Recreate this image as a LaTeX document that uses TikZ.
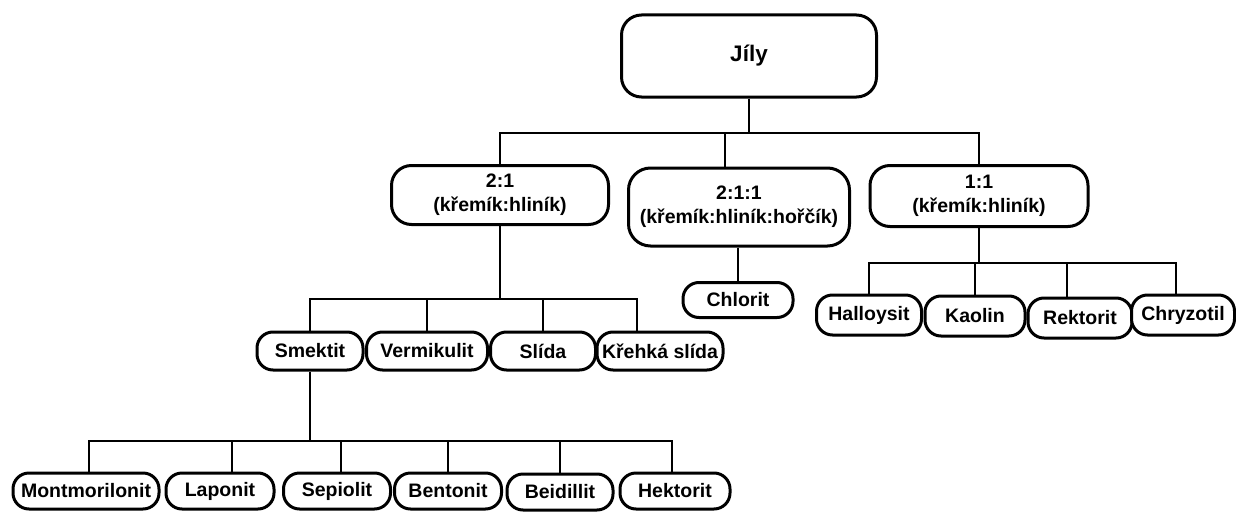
\documentclass[tikz,border=0pt]{standalone}
\usepackage{fontspec}
\setmainfont{Liberation Sans}
\begin{document}
\begin{tikzpicture}[x=1pt,y=-1pt,
  box/.style={draw=black, line width=3pt, rounded corners=16pt, fill=white, inner sep=0pt,
    font=\fontsize{19.5}{24}\selectfont\bfseries, align=center, minimum height=38pt},
  big/.style={box, rounded corners=20pt},
  conn/.style={draw=black, line width=2.2pt}]
\useasboundingbox[fill=white] (0,0) rectangle (1236,511);
% nodes
\node[big, minimum width=255pt, minimum height=82pt, font=\fontsize{22.5}{26}\selectfont\bfseries] (jily) at (749,56) {Jíly};
\node[big, minimum width=217pt, minimum height=59pt] (n21) at (500,195) {2:1\\(křemík:hliník)};
\node[big, minimum width=221pt, minimum height=78pt, rounded corners=22pt] (n211) at (739,207) {2:1:1\\(křemík:hliník:hořčík)};
\node[big, minimum width=218pt, minimum height=61pt] (n11) at (979,196) {1:1\\(křemík:hliník)};
\node[box, minimum width=110pt, minimum height=35pt] (chlorit) at (738,300) {Chlorit};
\node[box, minimum width=105pt, minimum height=40pt] (halloysit) at (869,315) {Halloysit};
\node[box, minimum width=100pt, minimum height=40pt] (kaolin) at (975,316) {Kaolin};
\node[box, minimum width=104pt, minimum height=40pt] (rektorit) at (1080,318) {Rektorit};
\node[box, minimum width=103pt, minimum height=40pt] (chryzotil) at (1183,315) {Chryzotil};
\node[box, minimum width=106pt] (smektit) at (310,351) {Smektit};
\node[box, minimum width=121pt] (vermikulit) at (427,351) {Vermikulit};
\node[box, minimum width=105pt] (slida) at (543,351) {Slída};
\node[box, minimum width=126pt] (krehka) at (660,351) {Křehká slída};
\node[box, minimum width=146pt, minimum height=36pt] (montmorilonit) at (86,491) {Montmorilonit};
\node[box, minimum width=108pt, minimum height=36pt] (laponit) at (220,491) {Laponit};
\node[box, minimum width=107pt, minimum height=36pt] (sepiolit) at (337,491) {Sepiolit};
\node[box, minimum width=107pt, minimum height=36pt] (bentonit) at (448,491) {Bentonit};
\node[box, minimum width=106pt, minimum height=36pt] (beidillit) at (560,492) {Beidillit};
\node[box, minimum width=110pt, minimum height=36pt] (hektorit) at (675,491) {Hektorit};
% bar levels
\coordinate (b0) at (0,133);
\coordinate (b21) at (0,299);
\coordinate (b11) at (0,263);
\coordinate (bsm) at (0,441);
% connectors
\draw[conn] (jily.south) -- (jily.south |- b0) -| (n21.north);
\draw[conn] (jily.south |- b0) -| ([xshift=-14pt]n211.north);
\draw[conn] (jily.south |- b0) -| (n11.north);
\draw[conn] (chlorit.north |- n211.south) -- (chlorit.north);
\draw[conn] (n11.south) -- (n11.south |- b11) -| (halloysit.north);
\draw[conn] (n11.south |- b11) -| (kaolin.north);
\draw[conn] (n11.south |- b11) -| ([xshift=-13pt]rektorit.north);
\draw[conn] (n11.south |- b11) -| ([xshift=-7pt]chryzotil.north);
\draw[conn] (n21.south) -- (n21.south |- b21) -| (smektit.north);
\draw[conn] (n21.south |- b21) -| (vermikulit.north);
\draw[conn] (n21.south |- b21) -| (slida.north);
\draw[conn] (n21.south |- b21) -| ([xshift=-23pt]krehka.north);
\draw[conn] (smektit.south) -- (smektit.south |- bsm) -| ([xshift=3pt]montmorilonit.north);
\draw[conn] (smektit.south |- bsm) -| ([xshift=12pt]laponit.north);
\draw[conn] (smektit.south |- bsm) -| ([xshift=4pt]sepiolit.north);
\draw[conn] (smektit.south |- bsm) -| (bentonit.north);
\draw[conn] (smektit.south |- bsm) -| (beidillit.north);
\draw[conn] (smektit.south |- bsm) -| ([xshift=-3pt]hektorit.north);
\end{tikzpicture}
\end{document}
